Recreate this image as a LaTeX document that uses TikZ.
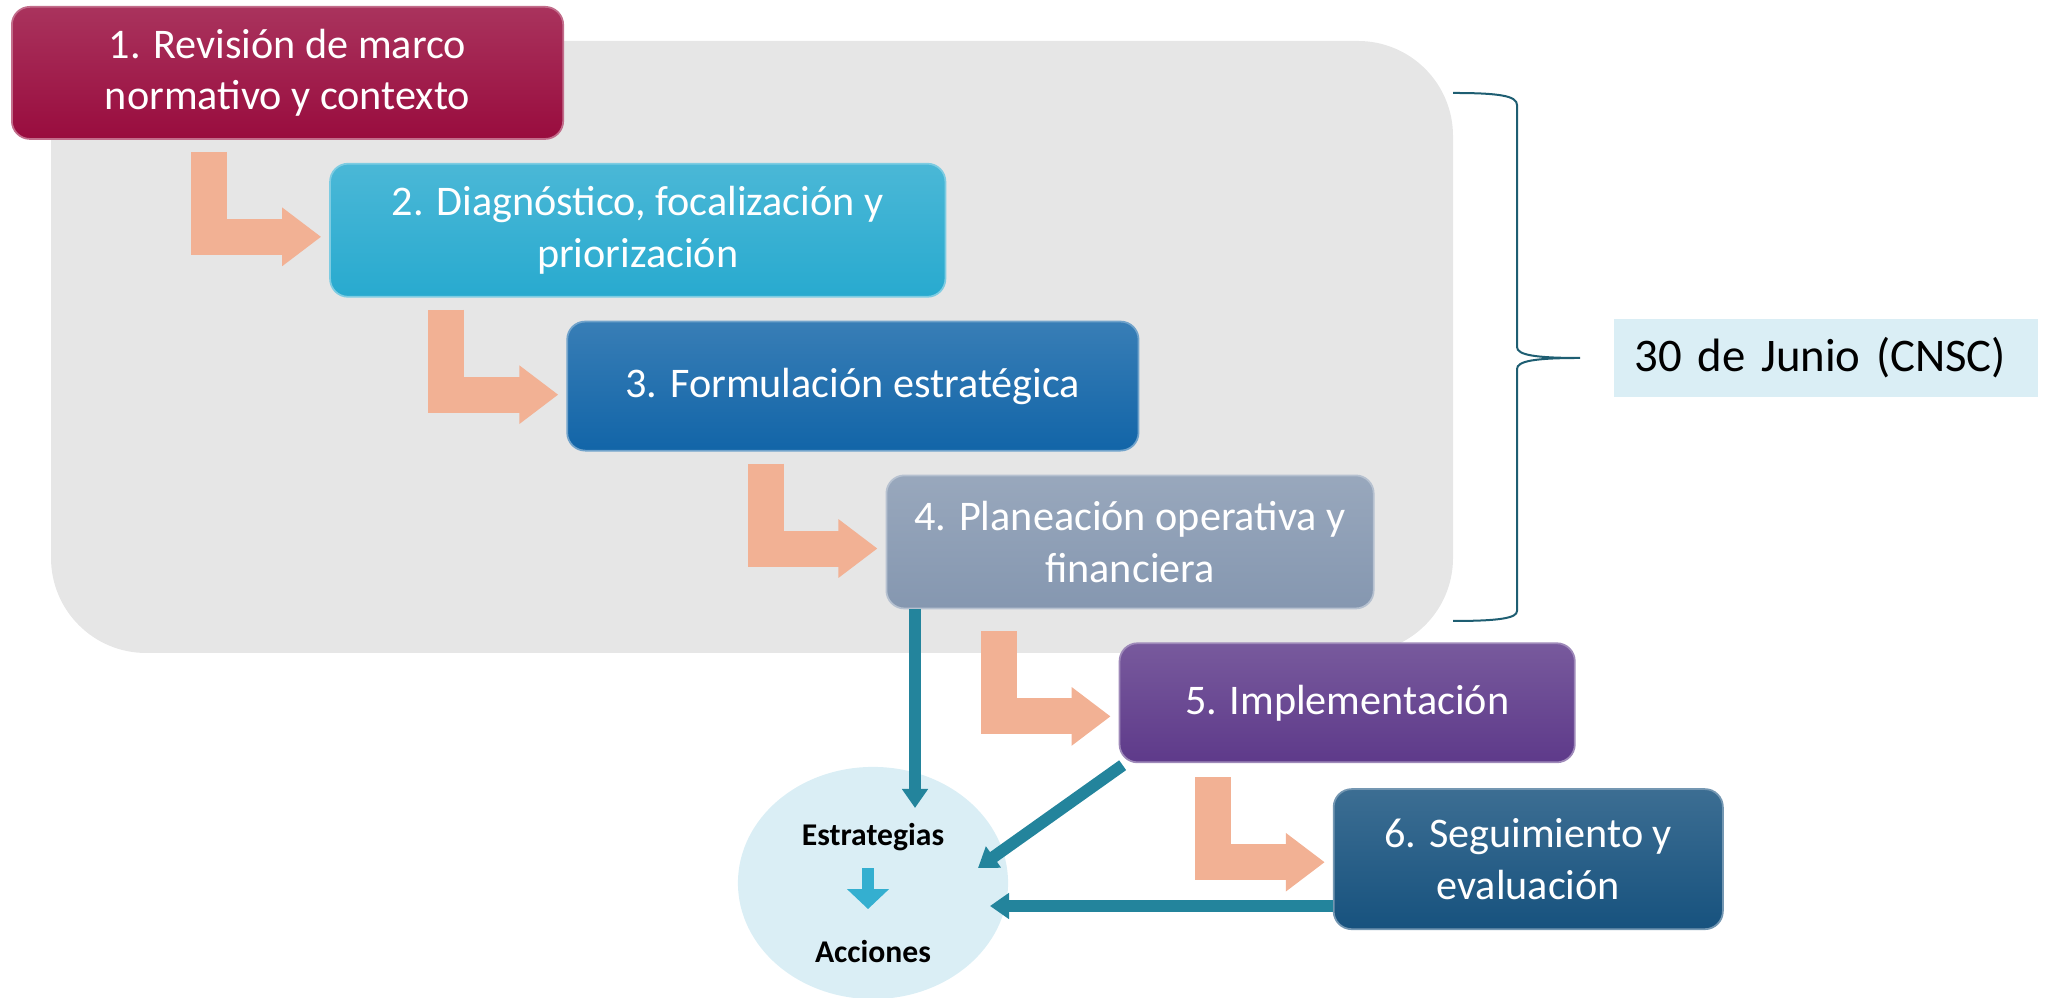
\documentclass[tikz,border=0pt]{standalone}
\usepackage{fontspec}
\setmainfont{Carlito}
\usetikzlibrary{positioning,arrows.meta,shapes.geometric,calc}

\definecolor{revcol}{HTML}{990C3E}
\definecolor{diagcol}{HTML}{28AACF}
\definecolor{formcol}{HTML}{1265A8}
\definecolor{plancol}{HTML}{8597B0}
\definecolor{implcol}{HTML}{5E3A8A}
\definecolor{segcol}{HTML}{17527E}
\definecolor{stepcol}{HTML}{F2B194}
\definecolor{panelcol}{HTML}{E6E6E6}
\definecolor{goalcol}{HTML}{DAEEF5}
\definecolor{linkcol}{HTML}{23849C}
\definecolor{dropcol}{HTML}{34AFD0}
\definecolor{bracecol}{HTML}{1E5E72}

\begin{document}
\begin{tikzpicture}[
x=0.01cm, y=0.01cm,
every node/.style={font=\fontsize{12}{14.6}\selectfont},
box/.style={
rounded corners=0.18cm,
align=center,
text=white,
inner sep=0pt,
top color=#1!84!white,
bottom color=#1,
draw=#1!60!white,
line width=0.5pt
},
larrow/.style={draw=stepcol, line width=0.36cm, line join=miter,
-{Triangle[width=0.56cm,length=0.39cm]}},
link/.style={draw=linkcol, line width=0.12cm,
-{Triangle[width=0.25cm,length=0.19cm]}},
drop/.style={draw=dropcol, line width=0.12cm,
-{Triangle[width=0.41cm,length=0.2cm]}},
goal/.style={ellipse, fill=goalcol, inner sep=0pt,
minimum width=2.7cm, minimum height=2.32cm},
tag/.style={inner sep=0pt, font=\bfseries\fontsize{9}{10}\selectfont},
datebox/.style={fill=goalcol, inner ysep=0pt, inner xsep=0.21cm,
minimum height=0.78cm, text width=3.82cm, align=left,
font=\fontsize{13.3}{16}\selectfont}
]
\useasboundingbox (0,0) rectangle (2049,998);

% Gray panel
\fill[panelcol, rounded corners=0.95cm] (51,345) rectangle (1453,957);

% Target
\node[goal] (goal) at (873,115) {};
\node[tag] (est) at ($(goal.center)+(0,46)$) {Estrategias};
\node[tag] (acc) at ($(goal.center)+(0,-69)$) {Acciones};

% Steps
\node[box=revcol, minimum width=5.51cm, minimum height=1.32cm,
anchor=north west] (b1) at (11,992)
{1. Revisión de marco\\normativo y contexto};

\node[box=diagcol, minimum width=6.15cm, minimum height=1.33cm,
below right=0.23cm and 3.18cm of b1.south west] (b2)
{2. Diagnóstico, focalización y\\priorización};

\node[box=formcol, minimum width=5.71cm, minimum height=1.29cm,
below right=0.23cm and 2.37cm of b2.south west] (b3)
{3. Formulación estratégica};

\node[box=plancol, minimum width=4.87cm, minimum height=1.33cm,
below right=0.23cm and 3.19cm of b3.south west] (b4)
{4. Planeación operativa y\\financiera};

\node[box=implcol, minimum width=4.55cm, minimum height=1.19cm,
below right=0.33cm and 2.33cm of b4.south west] (b5)
{5. Implementación};

\node[box=segcol, minimum width=3.89cm, minimum height=1.40cm,
below right=0.25cm and 2.14cm of b5.south west] (b6)
{6. Seguimiento y\\evaluación};

% Step arrows
\foreach \b in {b2,b3,b4,b5,b6}
\draw[larrow] ($(\b.north west)+(-120,11)$) |- ($(\b.north west)+(-8,-74)$);

% Links to target
\coordinate (tipA) at ($(goal.center)+(42,75)$);
\coordinate (tipB) at ($(goal.center)+(105,15)$);
\coordinate (tipC) at ($(goal.center)+(117,-23)$);
\draw[link] (tipA |- b4.south) -- (tipA);
\draw[link] ($(b5.south west)+(4,-2)$) -- (tipB);
\draw[link] (tipC -| b6.west) -- (tipC);
\draw[drop, shorten <=0.17cm, shorten >=0.31cm]
([xshift=-0.05cm]est.south) -- ([xshift=-0.05cm]acc.north);

% Brace and date
\draw[bracecol, line width=0.02cm]
(1453,905) .. controls (1500,905) and (1517,902) .. (1517,893)
-- (1517,651) .. controls (1517,643) and (1535,640) .. (1580,640)
.. controls (1535,640) and (1517,637) .. (1517,629)
-- (1517,387) .. controls (1517,380) and (1500,377) .. (1453,377);
\coordinate (tip) at (1580,640);
\node[datebox, right=0.33cm of tip] (date) {30 de Junio (CNSC)};

\end{tikzpicture}
\end{document}
